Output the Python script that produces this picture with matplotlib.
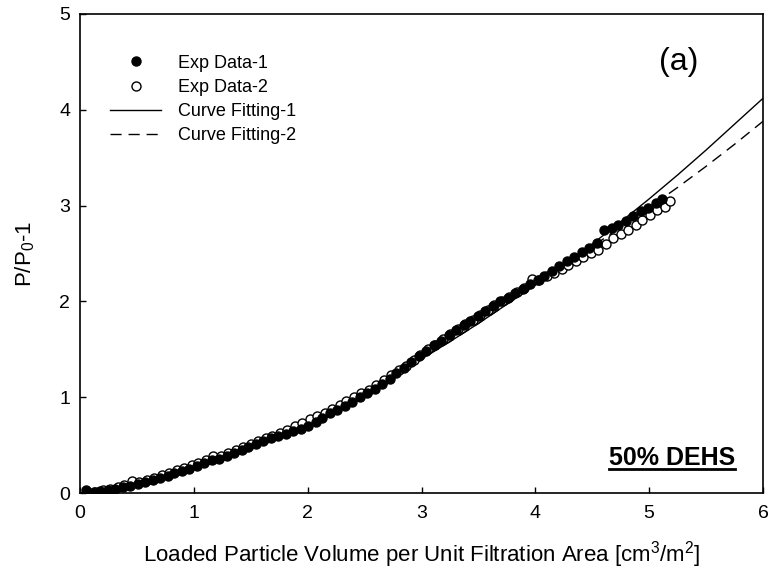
import matplotlib
matplotlib.use("Agg")
import matplotlib.pyplot as plt
from matplotlib.lines import Line2D

plt.rcParams["font.family"] = ["Liberation Sans", "DejaVu Sans"]
plt.rcParams["mathtext.fontset"] = "custom"
plt.rcParams["mathtext.rm"] = "Liberation Sans"
plt.rcParams["mathtext.it"] = "Liberation Sans"
plt.rcParams["mathtext.bf"] = "Liberation Sans:bold"

# experimental data, set 1 (filled) and set 2 (open)
x1 = [0.05, 0.12, 0.18, 0.25, 0.31, 0.38, 0.44, 0.51, 0.57, 0.64, 0.70, 0.77, 0.83, 0.90,
      0.96, 1.03, 1.09, 1.16, 1.22, 1.29, 1.35, 1.42, 1.48, 1.55, 1.61, 1.68, 1.74, 1.81,
      1.87, 1.94, 2.00, 2.07, 2.13, 2.20, 2.26, 2.33, 2.39, 2.46, 2.52, 2.59, 2.65, 2.72,
      2.78, 2.85, 2.91, 2.98, 3.04, 3.11, 3.17, 3.24, 3.30, 3.37, 3.43, 3.50, 3.56, 3.63,
      3.69, 3.76, 3.82, 3.89, 3.95, 4.02, 4.08, 4.15, 4.21, 4.28, 4.34, 4.41, 4.47, 4.54,
      4.60, 4.67, 4.73, 4.80, 4.86, 4.93, 4.99, 5.06, 5.11]
y1 = [0.03, 0.01, 0.02, 0.03, 0.04, 0.06, 0.07, 0.09, 0.11, 0.14, 0.16, 0.18, 0.21, 0.23,
      0.25, 0.28, 0.31, 0.34, 0.36, 0.39, 0.42, 0.45, 0.48, 0.51, 0.54, 0.57, 0.59, 0.62,
      0.65, 0.67, 0.70, 0.74, 0.78, 0.83, 0.87, 0.91, 0.95, 1.00, 1.04, 1.09, 1.14, 1.19,
      1.25, 1.31, 1.37, 1.43, 1.48, 1.54, 1.59, 1.65, 1.70, 1.75, 1.80, 1.85, 1.90, 1.95,
      2.00, 2.04, 2.09, 2.13, 2.18, 2.22, 2.27, 2.32, 2.37, 2.42, 2.46, 2.52, 2.56, 2.61,
      2.75, 2.77, 2.80, 2.84, 2.89, 2.94, 2.98, 3.03, 3.07]

x2 = [0.07, 0.13, 0.20, 0.26, 0.33, 0.39, 0.46, 0.52, 0.59, 0.65, 0.72, 0.78, 0.85, 0.91,
      0.98, 1.04, 1.11, 1.17, 1.24, 1.30, 1.37, 1.43, 1.50, 1.56, 1.63, 1.69, 1.76, 1.82,
      1.89, 1.95, 2.02, 2.08, 2.15, 2.21, 2.28, 2.34, 2.41, 2.47, 2.54, 2.60, 2.67, 2.73,
      2.80, 2.86, 2.93, 2.99, 3.06, 3.12, 3.19, 3.25, 3.32, 3.38, 3.45, 3.51, 3.58, 3.64,
      3.71, 3.77, 3.84, 3.90, 3.97, 4.03, 4.10, 4.16, 4.23, 4.29, 4.36, 4.42, 4.49, 4.55,
      4.62, 4.68, 4.75, 4.81, 4.88, 4.94, 5.01, 5.07, 5.14, 5.18]
y2 = [0.00, 0.01, 0.03, 0.04, 0.06, 0.08, 0.13, 0.11, 0.14, 0.16, 0.19, 0.21, 0.24, 0.26,
      0.29, 0.31, 0.34, 0.39, 0.39, 0.42, 0.45, 0.48, 0.51, 0.54, 0.57, 0.60, 0.63, 0.66,
      0.70, 0.73, 0.77, 0.80, 0.84, 0.88, 0.92, 0.96, 1.00, 1.04, 1.08, 1.13, 1.18, 1.23,
      1.28, 1.33, 1.39, 1.44, 1.50, 1.55, 1.61, 1.66, 1.71, 1.76, 1.81, 1.86, 1.91, 1.96,
      2.00, 2.05, 2.10, 2.14, 2.23, 2.22, 2.26, 2.30, 2.34, 2.38, 2.42, 2.46, 2.50, 2.54,
      2.60, 2.66, 2.70, 2.75, 2.80, 2.85, 2.90, 2.95, 2.99, 3.05]

# fitted curves
xf = [0.0, 0.25, 0.5, 0.75, 1.0, 1.25, 1.5, 1.75, 2.0, 2.25, 2.5, 2.75, 3.0,
      3.25, 3.5, 3.75, 4.0, 4.25, 4.5, 4.75, 5.0, 5.25, 5.5, 5.75, 6.0]
yf1 = [0.0, 0.02, 0.07, 0.15, 0.24, 0.35, 0.47, 0.60, 0.74, 0.89, 1.05, 1.22, 1.40,
       1.58, 1.77, 1.97, 2.17, 2.38, 2.60, 2.83, 3.07, 3.32, 3.58, 3.85, 4.12]
yf2 = [0.0, 0.02, 0.07, 0.15, 0.24, 0.35, 0.47, 0.60, 0.74, 0.89, 1.05, 1.22, 1.40,
       1.58, 1.77, 1.97, 2.17, 2.37, 2.57, 2.78, 2.98, 3.19, 3.41, 3.64, 3.88]

fig = plt.figure(figsize=(7.69, 5.76), dpi=100)
ax = fig.add_axes([80 / 769, 83 / 576, 683 / 769, 479 / 576])

ax.plot(x1, y1, "o", color="black", markersize=6.5, label="Exp Data-1", zorder=4)
ax.plot(x2, y2, "o", markerfacecolor="white", markeredgecolor="black",
        markeredgewidth=1.0, markersize=6.5, label="Exp Data-2", zorder=3)
ax.plot(xf, yf1, "-", color="black", lw=1.0, label="Curve Fitting-1", zorder=2)
ax.plot(xf, yf2, "--", color="black", lw=1.0, dashes=(8, 5), label="Curve Fitting-2", zorder=2)

ax.set_xlim(0, 6)
ax.set_ylim(0, 5)
ax.set_xticks([0, 1, 2, 3, 4, 5, 6])
ax.set_yticks([0, 1, 2, 3, 4, 5])
ax.tick_params(direction="in", length=4.5, width=1.0, labelsize=14)
ax.tick_params(axis="x", pad=9)
ax.tick_params(axis="y", pad=7)
for s in ax.spines.values():
    s.set_linewidth(1.2)

ax.set_xlabel("Loaded Particle Volume per Unit Filtration Area [cm$^3$/m$^2$]",
              fontsize=16, labelpad=12)
ax.set_ylabel("P/P$_0$-1", fontsize=16, labelpad=16)

ax.legend(loc="upper left", bbox_to_anchor=(0.034, 0.93), frameon=False, fontsize=13,
          handlelength=2.8, handletextpad=0.95, labelspacing=0.4, borderaxespad=0)

ax.text(0.877, 0.9, "(a)", transform=ax.transAxes, fontsize=23, ha="center", va="center")
lbl = ax.text(0.959, 0.074, "50% DEHS", transform=ax.transAxes, fontsize=18,
              fontweight="bold", ha="right", va="center")

# underline the label
fig.canvas.draw()
bb = lbl.get_window_extent().transformed(fig.transFigure.inverted())
fig.add_artist(Line2D([bb.x0, bb.x1], [bb.y0 + 0.001, bb.y0 + 0.001],
                      transform=fig.transFigure, color="black", lw=2.0))

fig.savefig("out.png", dpi=100)
